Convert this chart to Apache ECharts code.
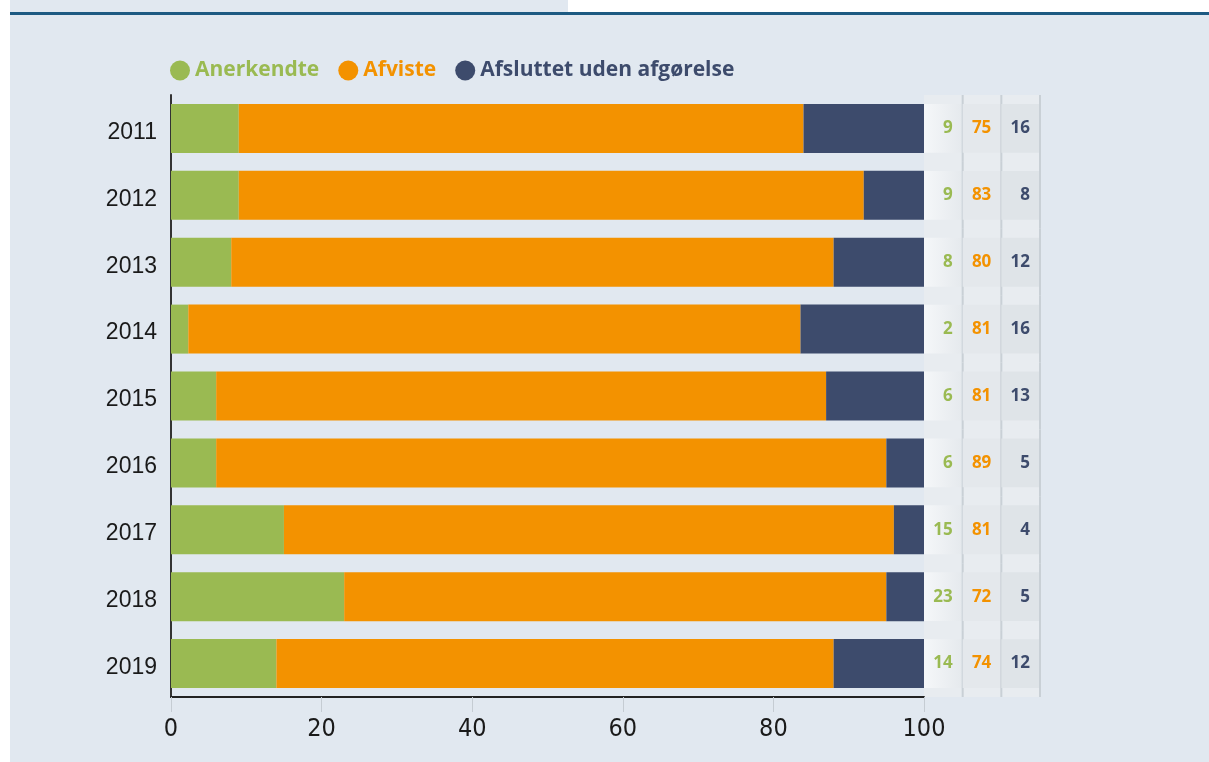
<!DOCTYPE html>
<html lang="da">
<head>
<meta charset="UTF-8">
<title>Afgørelser 2011-2019</title>
<script src="https://cdn.jsdelivr.net/npm/echarts@6/dist/echarts.min.js"></script>
<style>
body { margin: 0; background: #ffffff; }
.bg { position: absolute; left: 10px; top: 0; width: 1199px; height: 762px; background: #e1e8f0; }
.topwhite { position: absolute; left: 568px; top: 0; width: 641px; height: 12px; background: #ffffff; }
.topline { position: absolute; left: 10px; top: 12px; width: 1199px; height: 3px; background: #1d5a82; }
#chart { position: absolute; left: 0; top: 0; width: 1209px; height: 762px; }
</style>
</head>
<body>
<div class="bg"></div>
<div class="topwhite"></div>
<div class="topline"></div>
<div id="chart"></div>
<script>
// data (procent)
var years = ['2011', '2012', '2013', '2014', '2015', '2016', '2017', '2018', '2019'];
var anerkendte = [9, 9, 8, 2.3, 6, 6, 15, 23, 14];
var afviste = [75, 83, 80, 81.3, 81, 89, 81, 72, 74];
var afsluttet = [16, 8, 12, 16.4, 13, 5, 4, 5, 12];
var xTicks = [0, 20, 40, 60, 80, 100];

var names = ['Anerkendte', 'Afviste', 'Afsluttet uden afgørelse'];
var colors = ['#9aba52', '#f39200', '#3d4b6c'];
var seriesData = [anerkendte, afviste, afsluttet];

// celler til tabellen til højre
var cells = [];
years.forEach(function (y, i) {
    seriesData.forEach(function (arr, c) {
        cells.push([c, i, Math.round(arr[i])]);
    });
});

var cellFills = [
    new echarts.graphic.LinearGradient(0, 0, 1, 0, [
        { offset: 0, color: '#f5f7f9' },
        { offset: 1, color: '#e5e9ed' }
    ]),
    '#e4e8ec',
    '#dfe4e8'
];

function renderCell(params, api) {
    var c = api.value(0);
    var p = api.coord([c, api.value(1)]);
    var size = api.size([1, 1]);
    var w = size[0];
    var h = size[1] * 0.73;
    var x0 = p[0] - w / 2;
    return {
        type: 'group',
        children: [
            {
                type: 'rect',
                shape: { x: x0, y: p[1] - h / 2, width: w, height: h },
                style: { fill: cellFills[c] }
            },
            {
                type: 'line',
                shape: { x1: x0 + w, y1: p[1] - size[1] / 2, x2: x0 + w, y2: p[1] + size[1] / 2 },
                style: { stroke: '#c9d0d6', lineWidth: 2 }
            },
            {
                type: 'text',
                x: x0 + w - 10,
                y: p[1],
                style: {
                    text: String(api.value(2)),
                    align: 'right',
                    verticalAlign: 'middle',
                    fill: colors[c],
                    font: 'bold 17px "Open Sans", sans-serif'
                }
            }
        ]
    };
}

var chart = echarts.init(document.getElementById('chart'));

var series = names.map(function (n, k) {
    return {
        name: n,
        type: 'bar',
        stack: 'total',
        barWidth: 49,
        itemStyle: { color: colors[k] },
        data: seriesData[k]
    };
});
series.push({
    type: 'custom',
    xAxisIndex: 1,
    yAxisIndex: 1,
    renderItem: renderCell,
    data: cells
});

chart.setOption({
    animation: false,
    legend: {
        left: 165,
        top: 55,
        icon: 'circle',
        itemWidth: 20,
        itemHeight: 20,
        itemGap: 19,
        data: names.map(function (n, k) {
            return { name: n, textStyle: { color: colors[k] } };
        }),
        textStyle: { fontFamily: 'Open Sans', fontWeight: 'bold', fontSize: 21 }
    },
    grid: [
        { left: 171, right: 285, top: 95, bottom: 65 },
        { left: 924, width: 116, top: 95, bottom: 65, show: true, backgroundColor: '#e8ecf0', borderWidth: 0 }
    ],
    xAxis: [
        {
            type: 'value',
            min: xTicks[0],
            max: xTicks[xTicks.length - 1],
            interval: 20,
            axisLine: { show: true, lineStyle: { color: '#222', width: 2 } },
            axisTick: { show: true, length: 15, lineStyle: { color: '#c5ccd3', width: 1 } },
            splitLine: { show: false },
            axisLabel: {
                margin: 20,
                color: '#1a1a1a',
                fontSize: 25,
                fontFamily: '"Liberation Sans Narrow", "DejaVu Sans Condensed", sans-serif'
            }
        },
        {
            type: 'category',
            gridIndex: 1,
            data: ['a', 'b', 'c'],
            show: false
        }
    ],
    yAxis: [
        {
            type: 'category',
            data: years,
            inverse: true,
            axisLine: { show: true, lineStyle: { color: '#333', width: 2 } },
            axisTick: { show: false },
            axisLabel: {
                margin: 14,
                formatter: '{y|{value}}',
                rich: {
                    y: {
                        color: '#1a1a1a',
                        fontSize: 23,
                        padding: [8, 0, 0, 0],
                        fontFamily: '"Liberation Sans", sans-serif'
                    }
                }
            }
        },
        {
            type: 'category',
            gridIndex: 1,
            data: years,
            inverse: true,
            show: false
        }
    ],
    series: series
});
</script>
</body>
</html>
